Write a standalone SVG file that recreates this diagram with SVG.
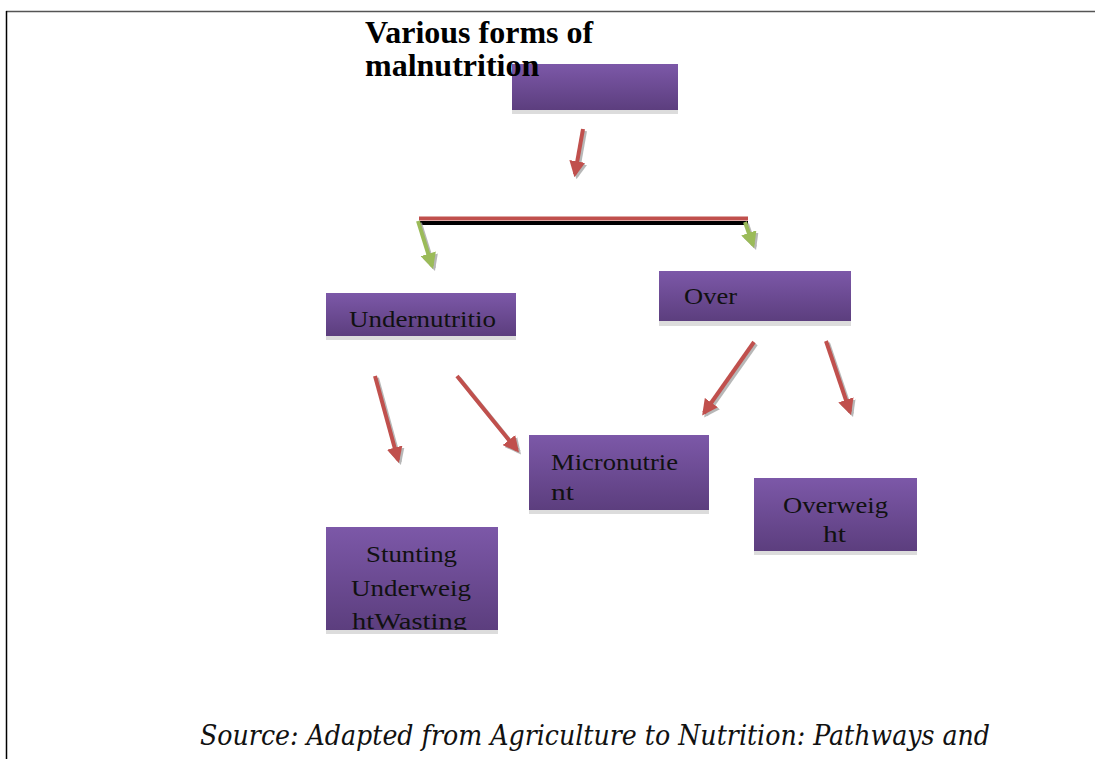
<svg xmlns="http://www.w3.org/2000/svg" width="1095" height="759" viewBox="0 0 1095 759">
<defs>
<linearGradient id="pg" x1="0" y1="0" x2="0" y2="1">
<stop offset="0" stop-color="#7C58A8"/>
<stop offset="1" stop-color="#5C3E7E"/>
</linearGradient>
<clipPath id="clipStunt"><rect x="326" y="527" width="172" height="103"/></clipPath>
<marker id="ahr" viewBox="0 0 10 10" refX="8" refY="5" markerWidth="4" markerHeight="4" orient="auto" markerUnits="strokeWidth">
<path d="M0,0 L10,5 L0,10 z" fill="#C0504D"/>
</marker>
<marker id="ahg" viewBox="0 0 10 10" refX="8" refY="5" markerWidth="4" markerHeight="4" orient="auto" markerUnits="strokeWidth">
<path d="M0,0 L10,5 L0,10 z" fill="#9BBB59"/>
</marker>
<marker id="ahs" viewBox="0 0 10 10" refX="8" refY="5" markerWidth="4" markerHeight="4" orient="auto" markerUnits="strokeWidth">
<path d="M0,0 L10,5 L0,10 z" fill="#A6A6A6"/>
</marker>
</defs>
<style>
.box{fill:url(#pg)}
.shadow{fill:#DCDCDC}
.lbl{font-family:"Liberation Serif","Times New Roman",serif;font-size:24px;fill:#111}
.red{stroke:#C0504D;stroke-width:4;fill:none;marker-end:url(#ahr)}
.green{stroke:#9BBB59;stroke-width:4;fill:none;marker-end:url(#ahg)}
.sh{stroke:#A6A6A6;stroke-width:4;fill:none;marker-end:url(#ahs);opacity:0.8}
.title{font-family:"Liberation Serif","Times New Roman",serif;font-weight:bold;font-size:32px;fill:#000}
</style>
<rect width="1095" height="759" fill="#fff"/>
<g id="frame">
<line x1="6" y1="11.5" x2="1095" y2="11.5" stroke="#555" stroke-width="1.5"/>
<line x1="6.5" y1="11" x2="6.5" y2="759" stroke="#000" stroke-width="1.5"/>
</g>
<g id="node-top">
<rect class="shadow" x="512" y="109" width="166" height="5"/>
<rect class="box" x="512" y="64" width="166" height="46"/>
</g>
<g id="title">
<text class="title" x="365" y="43">Various forms of</text>
<text class="title" x="365" y="76">malnutrition</text>
</g>
<g id="node-under">
<rect class="shadow" x="326" y="335" width="190" height="5"/>
<rect class="box" x="326" y="293" width="190" height="43"/>
<text class="lbl" x="349" y="327" textLength="147" lengthAdjust="spacingAndGlyphs">Undernutritio</text>
</g>
<g id="node-over">
<rect class="shadow" x="659" y="320" width="192" height="6"/>
<rect class="box" x="659" y="271" width="192" height="50"/>
<text class="lbl" x="684" y="304" textLength="53" lengthAdjust="spacingAndGlyphs">Over</text>
</g>
<g id="node-micro">
<rect class="shadow" x="529" y="509" width="180" height="5"/>
<rect class="box" x="529" y="435" width="180" height="75"/>
<text class="lbl" x="551" y="470" textLength="127" lengthAdjust="spacingAndGlyphs">Micronutrie</text>
<text class="lbl" x="551" y="500" textLength="23" lengthAdjust="spacingAndGlyphs">nt</text>
</g>
<g id="node-overweight">
<rect class="shadow" x="754" y="550" width="163" height="5"/>
<rect class="box" x="754" y="478" width="163" height="73"/>
<text class="lbl" x="783" y="513" textLength="105" lengthAdjust="spacingAndGlyphs">Overweig</text>
<text class="lbl" x="823" y="542" textLength="23" lengthAdjust="spacingAndGlyphs">ht</text>
</g>
<g id="node-stunting">
<rect class="shadow" x="326" y="629" width="172" height="5"/>
<rect class="box" x="326" y="527" width="172" height="103"/>
<g clip-path="url(#clipStunt)">
<text class="lbl" x="366" y="562" textLength="91" lengthAdjust="spacingAndGlyphs">Stunting</text>
<text class="lbl" x="351" y="596" textLength="120" lengthAdjust="spacingAndGlyphs">Underweig</text>
<text class="lbl" x="352" y="629" textLength="115" lengthAdjust="spacingAndGlyphs">htWasting</text>
</g>
</g>
<g id="connectors">
<line x1="419" y1="223" x2="748" y2="223" stroke="#000" stroke-width="4"/>
<line x1="419" y1="218.5" x2="748" y2="218.5" stroke="#C0504D" stroke-width="4"/>
<line class="sh" x1="585" y1="131" x2="577" y2="176"/>
<line class="red" x1="583" y1="129" x2="575" y2="174"/>
<line class="sh" x1="420" y1="223" x2="434" y2="268"/>
<line class="green" x1="418" y1="221" x2="432" y2="266"/>
<line class="sh" x1="747" y1="224" x2="755" y2="247"/>
<line class="green" x1="745" y1="222" x2="753" y2="245"/>
<line class="sh" x1="377" y1="378" x2="400" y2="462"/>
<line class="red" x1="375" y1="376" x2="398" y2="460"/>
<line class="sh" x1="459" y1="378" x2="519" y2="452"/>
<line class="red" x1="457" y1="376" x2="517" y2="450"/>
<line class="sh" x1="756" y1="344" x2="706" y2="415"/>
<line class="red" x1="754" y1="342" x2="704" y2="413"/>
<line class="sh" x1="828" y1="343" x2="852" y2="414"/>
<line class="red" x1="826" y1="341" x2="850" y2="412"/>
</g>
<g id="source">
<text x="200" y="745" font-family="'DejaVu Serif Condensed','DejaVu Serif',serif" font-style="italic" font-size="28" textLength="790" lengthAdjust="spacingAndGlyphs" fill="#111">Source: Adapted from Agriculture to Nutrition: Pathways and</text>
</g>
</svg>
